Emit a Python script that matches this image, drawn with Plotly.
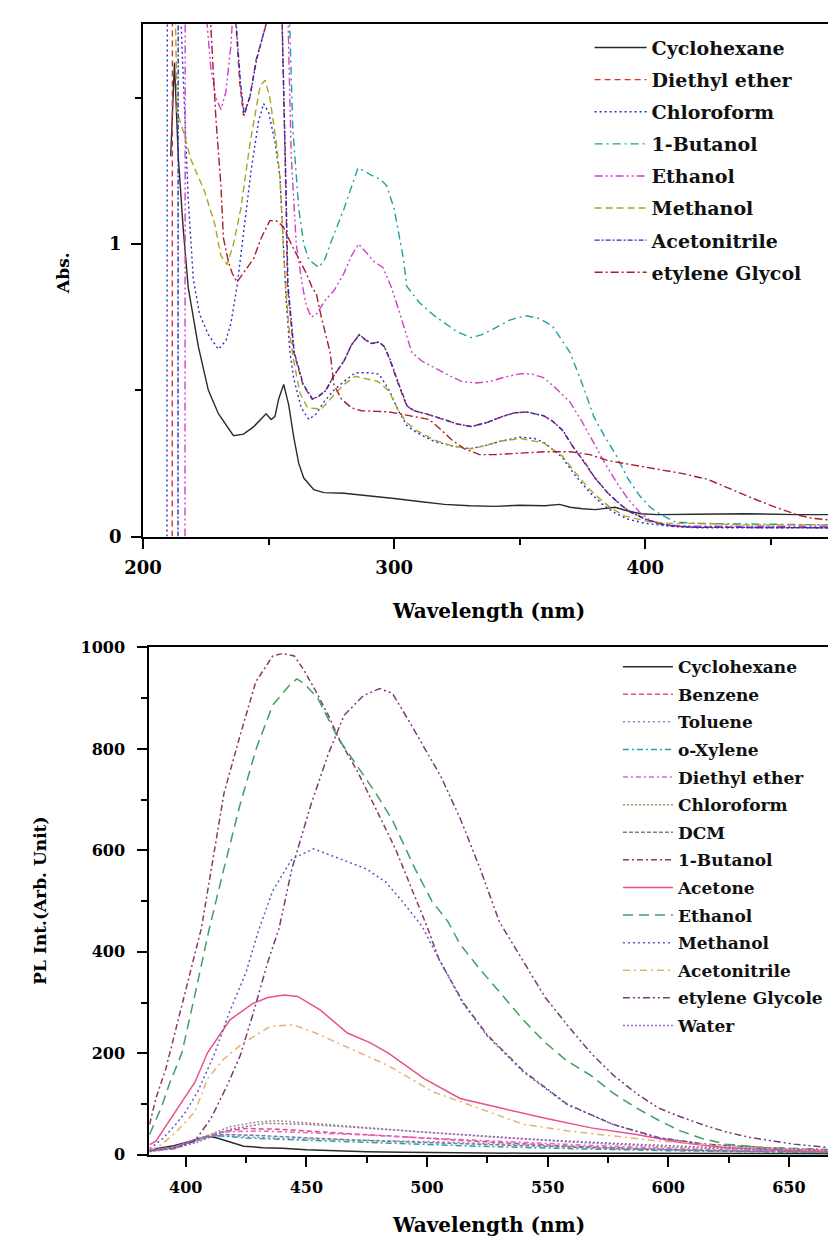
import plotly.graph_objects as go

# ---------------- Top panel: UV-Vis absorbance ----------------
abs_names = ["Cyclohexane", "Diethyl ether", "Chloroform", "1-Butanol",
             "Ethanol", "Methanol", "Acetonitrile", "etylene Glycol"]

cyc_wl = [211, 212.5, 214, 216, 218, 222, 226, 230, 236, 240, 244, 247, 249, 251, 252.5, 254, 256, 258, 260,
          262, 264, 268, 272, 280, 290, 300, 310, 320, 330, 340, 350, 360, 366, 370, 375, 380, 388, 392, 398,
          405, 420, 440, 460, 473]
cyc_abs = [1.3, 1.62, 1.3, 1.05, 0.85, 0.65, 0.50, 0.42, 0.345, 0.35, 0.375, 0.40, 0.42, 0.40, 0.41, 0.47, 0.52,
           0.45, 0.34, 0.25, 0.20, 0.16, 0.15, 0.148, 0.14, 0.13, 0.12, 0.11, 0.105, 0.103, 0.107, 0.105, 0.11,
           0.10, 0.095, 0.092, 0.10, 0.09, 0.078, 0.075, 0.076, 0.078, 0.075, 0.075]

dee_wl = [211.6, 211.7, 232, 236.9, 238.5, 240, 242.5, 245, 248, 250, 252, 255, 256.8, 257.5, 260, 263.6, 267.3,
          270, 272.7, 276, 280, 283, 286, 288, 290.8, 294, 296, 298, 301.7, 305, 308, 312.5, 319.7, 325, 330.6,
          337, 343, 348, 352.5, 359.5, 363, 367, 371, 376, 380, 385, 390, 394, 400, 405, 412, 420, 473]
dee_abs = [0.0, 2.4, 2.4, 1.75, 1.55, 1.44, 1.5, 1.63, 1.72, 1.78, 1.9, 1.9, 1.2, 0.86, 0.63, 0.52, 0.47, 0.48,
           0.50, 0.55, 0.60, 0.655, 0.69, 0.675, 0.66, 0.665, 0.65, 0.61, 0.52, 0.446, 0.43, 0.42, 0.40, 0.385,
           0.376, 0.39, 0.41, 0.423, 0.426, 0.413, 0.395, 0.363, 0.31, 0.25, 0.20, 0.15, 0.11, 0.084, 0.06, 0.045,
           0.035, 0.032, 0.03]

chl_wl = [209.5, 209.7, 213, 216, 218, 220, 222.5, 226, 230, 233, 235, 237.5, 240, 243, 246, 248, 250, 252.5,
          254.5, 256, 257, 258.5, 260, 263, 266, 269, 272, 276, 280, 284.5, 290, 294, 298, 301.7, 305, 309, 316,
          323, 330, 336, 342, 350, 356, 360, 367, 372, 378, 383, 388, 393, 400, 410, 420, 473]
chl_abs = [0.0, 2.4, 2.2, 1.6, 1.15, 0.88, 0.76, 0.69, 0.64, 0.67, 0.73, 0.86, 1.03, 1.25, 1.42, 1.48, 1.45,
           1.35, 1.23, 1.0, 0.81, 0.63, 0.54, 0.44, 0.40, 0.42, 0.46, 0.50, 0.53, 0.56, 0.56, 0.555, 0.50, 0.43,
           0.38, 0.355, 0.325, 0.31, 0.30, 0.31, 0.325, 0.34, 0.335, 0.32, 0.27, 0.21, 0.15, 0.11, 0.08, 0.06,
           0.045, 0.035, 0.03, 0.03]

but_wl = [250, 256, 258.4, 259.6, 262, 264, 266, 270, 272.5, 275, 280, 285.6, 288, 291, 294.7, 297, 300, 303.7,
          305, 310, 316, 325, 330.6, 335, 339.6, 346, 352.5, 358, 363, 366, 370, 375, 379.5, 384, 388.6, 393,
          397.7, 402, 406.6, 412, 420, 473]
but_abs = [2.4, 2.2, 1.75, 1.40, 1.12, 1.0, 0.946, 0.92, 0.95, 1.01, 1.12, 1.26, 1.25, 1.235, 1.22, 1.2, 1.12,
           0.95, 0.856, 0.80, 0.755, 0.70, 0.68, 0.69, 0.71, 0.74, 0.755, 0.745, 0.72, 0.68, 0.63, 0.52, 0.41,
           0.34, 0.275, 0.20, 0.14, 0.10, 0.073, 0.05, 0.045, 0.04]

eth_wl = [216.7, 216.8, 223, 225, 227, 229, 231, 233, 235, 236, 240, 256, 257.5, 259, 261, 263.5, 265, 267, 269,
          272.7, 276, 280, 283, 285.8, 289, 292, 295.5, 299, 302, 304.5, 307, 311, 316, 322, 327, 332.5, 338,
          344, 350.5, 355, 359.5, 364, 370, 375, 379.5, 384, 388.6, 393, 397.7, 402, 408, 420, 473]
eth_abs = [0.0, 2.4, 2.4, 1.8, 1.6, 1.5, 1.46, 1.52, 1.68, 1.8, 2.4, 2.4, 1.8, 1.3, 1.0, 0.856, 0.79, 0.75, 0.76,
           0.81, 0.84, 0.90, 0.96, 1.0, 0.97, 0.94, 0.92, 0.85, 0.77, 0.70, 0.63, 0.60, 0.576, 0.55, 0.53, 0.525,
           0.53, 0.545, 0.557, 0.555, 0.543, 0.51, 0.46, 0.39, 0.32, 0.25, 0.185, 0.13, 0.084, 0.055, 0.04,
           0.035, 0.035]

met_wl = [212.5, 213.5, 215.5, 219, 224.5, 228.5, 231, 233.5, 236, 238.9, 242.7, 246.6, 248.6, 250.5, 253, 254.5,
          256.4, 258, 260, 262.5, 265.5, 271, 276.4, 280, 284.5, 290.8, 293.6, 298, 301.7, 305, 308.8, 316, 323,
          330.6, 336, 341.5, 350.5, 359.5, 367, 372, 378, 383, 387, 392, 397, 402, 410, 420, 440, 473]
met_abs = [2.0, 1.45, 1.40, 1.29, 1.18, 1.07, 0.96, 0.93, 1.0, 1.12, 1.35, 1.54, 1.56, 1.50, 1.35, 1.23, 0.90,
           0.72, 0.60, 0.49, 0.44, 0.436, 0.487, 0.52, 0.548, 0.537, 0.53, 0.497, 0.43, 0.39, 0.363, 0.33, 0.31,
           0.30, 0.31, 0.325, 0.335, 0.32, 0.275, 0.22, 0.16, 0.12, 0.094, 0.07, 0.06, 0.05, 0.045, 0.045, 0.04,
           0.04]

acn_wl = [213.9, 214.0, 233, 237.2, 238.8, 240.3, 242.7, 245.2, 248, 250.2, 252, 255, 256.9, 257.7, 260.2, 263.8,
          267.5, 270, 272.9, 276, 280, 283, 286.2, 288, 291, 294, 296, 298.2, 301.9, 305.2, 308, 312.5, 320, 325,
          330.8, 337, 343, 348, 352.7, 359.5, 363, 367.2, 371, 376.2, 380, 385, 390, 394, 400, 405, 412, 420, 473]
acn_abs = [0.0, 2.4, 2.4, 1.74, 1.55, 1.44, 1.51, 1.63, 1.72, 1.79, 1.9, 1.9, 1.2, 0.86, 0.63, 0.52, 0.47, 0.48,
           0.50, 0.55, 0.60, 0.655, 0.69, 0.677, 0.66, 0.665, 0.65, 0.61, 0.52, 0.446, 0.43, 0.42, 0.40, 0.385,
           0.376, 0.39, 0.41, 0.423, 0.426, 0.413, 0.395, 0.363, 0.31, 0.25, 0.20, 0.15, 0.11, 0.084, 0.06, 0.045,
           0.035, 0.032, 0.03]

egl_wl = [220, 225, 227, 229, 231, 232, 234, 235.5, 237.4, 240, 244, 247, 250.5, 253, 255.8, 259, 262, 265, 267.4,
          269, 271, 274.5, 276, 279, 283, 287, 293, 298, 305, 314, 318, 323, 328, 334, 340, 346, 352, 360, 370,
          378, 385, 395, 406.6, 415, 424.7, 433, 443, 452, 461, 467, 473]
egl_abs = [2.4, 2.4, 1.74, 1.43, 1.2, 1.02, 0.94, 0.90, 0.87, 0.90, 0.95, 1.02, 1.08, 1.08, 1.06, 1.0, 0.95,
           0.90, 0.85, 0.83, 0.75, 0.63, 0.52, 0.47, 0.44, 0.43, 0.428, 0.426, 0.415, 0.40, 0.37, 0.33, 0.30,
           0.28, 0.28, 0.283, 0.285, 0.29, 0.29, 0.28, 0.26, 0.245, 0.23, 0.215, 0.196, 0.165, 0.13, 0.10, 0.073,
           0.062, 0.057]

abs_wl = [cyc_wl, dee_wl, chl_wl, but_wl, eth_wl, met_wl, acn_wl, egl_wl]
abs_vals = [cyc_abs, dee_abs, chl_abs, but_abs, eth_abs, met_abs, acn_abs, egl_abs]

abs_colors = ["#2b2b2b", "#e8282a", "#2a2ad0", "#1fa0a0", "#d040c8", "#a8a820", "#2830b8", "#a81c2c"]
abs_dash = ["solid", "6px,4px", "2px,3px", "8px,4px,2px,4px", "8px,3px,2px,3px,2px,3px", "7px,4px",
            "5px,2px,2px,2px", "8px,3px,2px,3px"]

abs_xticks = [200, 300, 400]
abs_yticks = [0, 1]

# ---------------- Bottom panel: photoluminescence ----------------
pl_names = ["Cyclohexane", "Benzene", "Toluene", "o-Xylene", "Diethyl ether", "Chloroform", "DCM",
            "1-Butanol", "Acetone", "Ethanol", "Methanol", "Acetonitrile", "etylene Glycole", "Water"]

pl_cyc_wl = [385, 390, 395, 400, 405, 409, 413, 417, 424, 432, 440, 450, 460, 475, 490, 510, 540, 580, 620, 667]
pl_cyc = [10, 14, 18, 24, 32, 37, 33, 27, 17, 14, 13, 10, 8, 6, 5, 4, 3, 3, 2, 2]

pl_ben_wl = [385, 395, 405, 415, 425, 440, 460, 480, 500, 530, 560, 600, 630, 667]
pl_ben = [8, 15, 30, 45, 52, 50, 44, 38, 32, 24, 17, 10, 7, 5]

pl_tol_wl = [385, 395, 405, 412, 425, 440, 460, 480, 510, 540, 580, 620, 667]
pl_tol = [8, 14, 28, 38, 35, 32, 30, 28, 25, 20, 13, 8, 5]

pl_xyl_wl = [385, 395, 405, 412, 425, 440, 460, 490, 520, 560, 600, 667]
pl_xyl = [9, 15, 30, 38, 33, 30, 27, 22, 17, 12, 8, 4]

pl_dee_wl = [385, 395, 405, 415, 430, 450, 470, 500, 530, 570, 610, 667]
pl_dee = [8, 15, 32, 45, 47, 44, 40, 33, 26, 18, 11, 6]

pl_chl_wl = [385, 395, 405, 418, 430, 438, 450, 470, 500, 530, 560, 600, 640, 667]
pl_chl = [8, 14, 30, 55, 65, 67, 63, 55, 44, 34, 25, 15, 9, 6]

pl_dcm_wl = [385, 395, 405, 415, 430, 450, 470, 500, 540, 580, 620, 667]
pl_dcm = [8, 14, 30, 40, 38, 33, 29, 24, 18, 12, 8, 5]

pl_but_wl = [385, 387.6, 391.7, 394.4, 400, 406.5, 411.8, 415.8, 422.6, 429, 436, 440, 445, 449, 453.4, 459, 464,
             471, 479, 487, 494, 500, 505, 515, 525, 540, 558, 577, 596, 615, 640, 667]
pl_but = [60, 111, 169, 221, 325, 447, 603, 712, 828, 932, 983, 988, 983, 955, 918, 867, 815, 757, 680, 602, 520,
          450, 385, 300, 236, 165, 100, 60, 34, 21, 14, 10]

pl_ace_wl = [385, 387.6, 395.7, 403.8, 409, 418.3, 427.7, 434, 440.8, 446.4, 455.8, 467, 476.3, 483.8, 498.8,
             513.7, 530.6, 549, 568, 586.8, 605, 624, 652, 667]
pl_ace = [20, 27, 85, 143, 201, 266, 298, 310, 315, 312, 285, 240, 221, 201, 150, 111, 92, 72, 53, 40, 24, 14,
          8, 6]

pl_eth_wl = [385, 390, 393, 398.4, 404, 409.8, 415.8, 422.6, 429.3, 436, 442.7, 446, 449.3, 454.8, 463, 472.3,
             479, 485.6, 495, 502, 508.6, 513.7, 522, 530.6, 540, 549, 558, 568, 577, 586.8, 596, 605, 614, 624,
             640, 667]
pl_eth = [40, 95, 137, 201, 320, 447, 564, 692, 802, 886, 924, 938, 928, 899, 822, 758, 711, 660, 564, 500, 460,
          415, 365, 318, 265, 221, 185, 156, 122, 92, 68, 47, 32, 21, 14, 10]

pl_met_wl = [385, 390, 395, 400, 405, 412, 418, 425, 430, 436, 444, 453, 463, 475, 483, 490, 498, 505, 515, 525,
             540, 558, 577, 596, 615, 640, 667]
pl_met = [12, 30, 55, 85, 125, 200, 280, 360, 440, 520, 583, 603, 585, 563, 537, 498, 450, 385, 298, 234, 163, 99,
          60, 33, 21, 12, 8]

pl_acn_wl = [385, 390, 396, 403.8, 409, 415.8, 424, 435, 444.5, 453.8, 468.8, 483.8, 502.5, 521, 540, 558.6, 596,
             633.5, 667]
pl_acn = [8, 20, 45, 85, 150, 189, 221, 253, 256, 240, 208, 176, 124, 92, 60, 47, 27, 14, 8]

pl_egl_wl = [385, 395, 403.7, 410.5, 417.2, 422.6, 428, 434, 438.7, 444, 452, 459, 465.6, 473.6, 480.4, 485.7,
             492.5, 499, 505.9, 514, 522, 530, 540, 549, 558.6, 568, 577.4, 587, 596, 605, 615, 624, 634, 652, 667]
pl_egl = [8, 12, 27, 72, 137, 196, 280, 380, 447, 564, 692, 789, 866, 905, 919, 909, 855, 802, 744, 660, 564, 459,
          380, 310, 253, 200, 156, 120, 92, 75, 58, 45, 34, 21, 14]

pl_wat_wl = [385, 395, 405, 418, 433, 450, 473, 494, 520, 546, 580, 620, 667]
pl_wat = [6, 12, 25, 50, 62, 60, 53, 46, 38, 30, 22, 14, 8]

pl_wl = [pl_cyc_wl, pl_ben_wl, pl_tol_wl, pl_xyl_wl, pl_dee_wl, pl_chl_wl, pl_dcm_wl, pl_but_wl, pl_ace_wl,
         pl_eth_wl, pl_met_wl, pl_acn_wl, pl_egl_wl, pl_wat_wl]
pl_vals = [pl_cyc, pl_ben, pl_tol, pl_xyl, pl_dee, pl_chl, pl_dcm, pl_but, pl_ace, pl_eth, pl_met, pl_acn,
           pl_egl, pl_wat]

pl_colors = ["#2b2b2b", "#e0506a", "#8a8ac0", "#2aa0a0", "#e060e0", "#9a9a60", "#7a7aa0", "#8a3a5a",
             "#ec4f8c", "#3fa060", "#5a5ac8", "#e8b070", "#7a3a7a", "#a060d8"]
pl_dash = ["solid", "5px,3px", "2px,3px", "6px,3px,2px,3px", "5px,3px,2px,3px", "2px,2px", "4px,2px",
           "6px,3px,2px,3px", "solid", "10px,6px", "2px,3px", "7px,4px,2px,4px", "7px,3px,2px,3px,2px,3px",
           "2px,2px"]

pl_xticks = [400, 450, 500, 550, 600, 650]
pl_yticks = [0, 200, 400, 600, 800, 1000]

# ---------------- Figure ----------------
W, H = 828, 1247
fig = go.Figure()

for i, name in enumerate(abs_names):
    fig.add_trace(go.Scatter(
        x=abs_wl[i], y=abs_vals[i], mode="lines", name=name,
        line=dict(color=abs_colors[i], width=1.4, dash=abs_dash[i]),
        xaxis="x", yaxis="y", legend="legend", legendgroup="a%d" % i))

for i, name in enumerate(pl_names):
    fig.add_trace(go.Scatter(
        x=pl_wl[i], y=pl_vals[i], mode="lines", name=name,
        line=dict(color=pl_colors[i], width=1.5, dash=pl_dash[i]),
        xaxis="x2", yaxis="y2", legend="legend2", legendgroup="b%d" % i))

serif = "DejaVu Serif"
tickfont_top = dict(family=serif, size=18, color="black", weight="bold")
tickfont_bot = dict(family=serif, size=16, color="black", weight="bold")

fig.update_layout(
    width=W, height=H, margin=dict(l=0, r=0, t=0, b=0),
    paper_bgcolor="white", plot_bgcolor="white",
    showlegend=True,
    xaxis=dict(domain=[127 / W, 1.0], anchor="y", range=[200, 472.8], tickvals=abs_xticks,
               ticks="outside", ticklen=10, tickwidth=2, tickcolor="black", ticklabelstandoff=4,
               minor=dict(tickvals=[250, 350, 450], ticks="outside", ticklen=6, tickwidth=2, tickcolor="black"),
               showline=True, linewidth=2, linecolor="black", mirror=True,
               showgrid=False, zeroline=False, tickfont=tickfont_top),
    yaxis=dict(domain=[1 - 535.7 / H, 1 - 15 / H], anchor="x", range=[0, 1.753], tickvals=abs_yticks,
               ticks="outside", ticklen=10, tickwidth=2, tickcolor="black", ticklabelstandoff=6,
               minor=dict(tickvals=[0.5, 1.5], ticks="outside", ticklen=6, tickwidth=2, tickcolor="black"),
               showline=True, linewidth=2, linecolor="black",
               showgrid=False, zeroline=False, tickfont=tickfont_top),
    xaxis2=dict(domain=[133.3 / W, 1.0], anchor="y2", range=[384.85, 666.2], tickvals=pl_xticks,
                ticks="outside", ticklen=10, tickwidth=2, tickcolor="black", ticklabelstandoff=7,
                minor=dict(tickvals=[425, 475, 525, 575, 625], ticks="outside", ticklen=6, tickwidth=2,
                           tickcolor="black"),
                showline=True, linewidth=2, linecolor="black", mirror=True,
                showgrid=False, zeroline=False, tickfont=tickfont_bot),
    yaxis2=dict(domain=[1 - 1163.5 / H, 1 - 648.3 / H], anchor="x2", range=[0, 1000], tickvals=pl_yticks,
                ticks="outside", ticklen=10, tickwidth=2, tickcolor="black", ticklabelstandoff=9,
                minor=dict(tickvals=[100, 300, 500, 700, 900], ticks="outside", ticklen=6, tickwidth=2,
                           tickcolor="black"),
                showline=True, linewidth=2, linecolor="black",
                showgrid=False, zeroline=False, tickfont=tickfont_bot),
    legend=dict(x=584 / W, y=1 - 20 / H, xanchor="left", yanchor="top", bgcolor="rgba(255,255,255,0)",
                font=dict(family=serif, size=19, color="#111", weight="bold"), itemwidth=52,
                tracegroupgap=4.4),
    legend2=dict(x=613 / W, y=1 - 650 / H, xanchor="left", yanchor="top", bgcolor="rgba(255,255,255,0)",
                 font=dict(family=serif, size=17, color="#111", weight="bold"), itemwidth=50,
                 tracegroupgap=2.5),
)

title_font = dict(family=serif, size=20, color="black", weight="bold")
fig.add_annotation(text="Abs.", x=45 / W, y=1 - 268 / H, xref="paper", yref="paper", textangle=-90,
                   xanchor="center", yanchor="middle", showarrow=False,
                   font=dict(family=serif, size=17, color="black", weight="bold"))
fig.add_annotation(text="Wavelength (nm)", x=481 / W, y=1 - 611 / H, xref="paper", yref="paper",
                   xanchor="center", yanchor="middle", showarrow=False, font=title_font)
fig.add_annotation(text="PL Int.(Arb. Unit)", x=22 / W, y=1 - 905 / H, xref="paper", yref="paper",
                   textangle=-90, xanchor="center", yanchor="middle", showarrow=False,
                   font=dict(family=serif, size=17, color="black", weight="bold"))
fig.add_annotation(text="Wavelength (nm)", x=481 / W, y=1 - 1235 / H, xref="paper", yref="paper",
                   xanchor="center", yanchor="middle", showarrow=False, font=title_font)

fig.write_html("out.html")
